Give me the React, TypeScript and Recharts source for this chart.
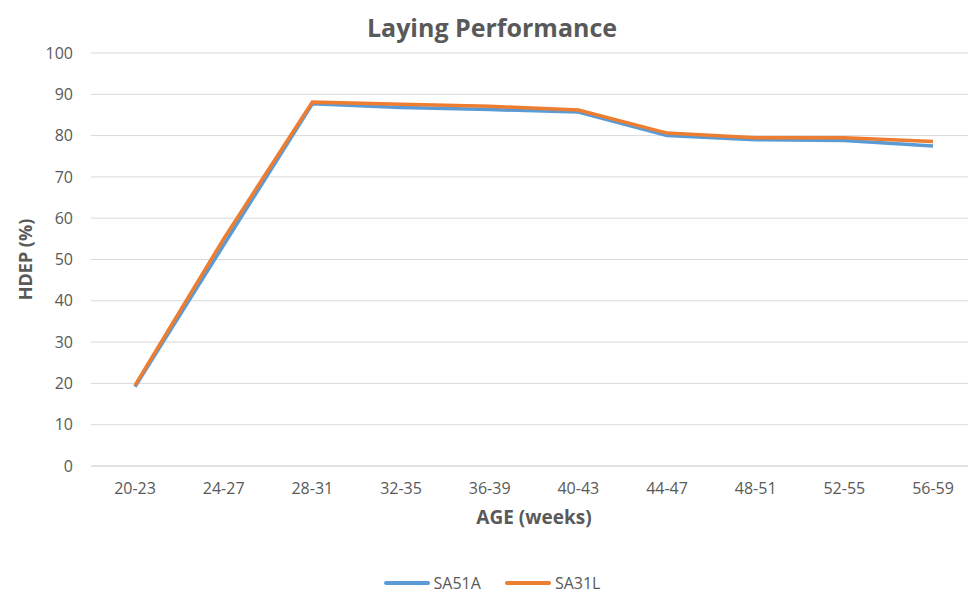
import React from "react";
import { LineChart, Line, XAxis, YAxis, CartesianGrid, Label } from "recharts";

const categories = ["20-23", "24-27", "28-31", "32-35", "36-39", "40-43", "44-47", "48-51", "52-55", "56-59"];
const sa51a = [19.2, 53.5, 87.7, 86.8, 86.3, 85.7, 80.0, 79.0, 78.8, 77.5];
const sa31l = [19.5, 55.0, 88.1, 87.6, 87.1, 86.2, 80.6, 79.5, 79.5, 78.6];
const yTicks = [0, 10, 20, 30, 40, 50, 60, 70, 80, 90, 100];
const seriesNames = ["SA51A", "SA31L"];
const seriesColors = ["#5B9BD5", "#ED7D31"];

const data = categories.map((c, i) => ({ age: c, SA51A: sa51a[i], SA31L: sa31l[i] }));

const FONT = "'Open Sans', 'DejaVu Sans', sans-serif";
const GRAY = "#595959";

export default function App() {
  return (
    <div style={{ position: "absolute", left: 0, top: 0, width: 968, height: 593, overflow: "hidden", background: "#fff", fontFamily: FONT }}>
      <div style={{ position: "absolute", left: 0, top: 10, width: 984, textAlign: "center", fontSize: 25, fontWeight: 700, color: GRAY, lineHeight: "34px" }}>
        Laying Performance
      </div>
      <LineChart width={980} height={593} data={data} margin={{ top: 53, right: 3, bottom: 0, left: 0 }}>
        <CartesianGrid horizontal vertical={false} stroke="#d9d9d9" strokeWidth={1} />
        <XAxis
          dataKey="age"
          height={127}
          padding={{ left: 44, right: 44 }}
          tickLine={false}
          axisLine={{ stroke: "#d9d9d9" }}
          tickSize={0}
          tickMargin={17}
          tick={{ fill: GRAY, fontSize: 16, fontFamily: FONT }}
        >
          <Label value="AGE (weeks)" position="insideTop" offset={45} style={{ fill: GRAY, fontSize: 19, fontWeight: 700, fontFamily: FONT }} />
        </XAxis>
        <YAxis
          domain={[0, 100]}
          ticks={yTicks}
          width={91}
          tickLine={false}
          axisLine={false}
          tickSize={0}
          tickMargin={18}
          tick={{ fill: GRAY, fontSize: 16, fontFamily: FONT }}
        >
          <Label value="HDEP (%)" angle={-90} position="insideLeft" offset={26} style={{ fill: GRAY, fontSize: 18, fontWeight: 700, fontFamily: FONT, textAnchor: "middle" }} />
        </YAxis>
        <Line type="linear" dataKey="SA51A" stroke={seriesColors[0]} strokeWidth={3.5} dot={false} isAnimationActive={false} />
        <Line type="linear" dataKey="SA31L" stroke={seriesColors[1]} strokeWidth={3.5} dot={false} isAnimationActive={false} />
      </LineChart>
      <div style={{ position: "absolute", left: 0, top: 572, width: 984, display: "flex", justifyContent: "center", alignItems: "center", fontSize: 16, color: GRAY, lineHeight: "22px" }}>
        {seriesNames.map((n, i) => (
          <div key={n} style={{ display: "flex", alignItems: "center", marginRight: i === 0 ? 24 : 0 }}>
            <span style={{ display: "inline-block", width: 46, height: 4, borderRadius: 2, background: seriesColors[i], marginRight: 4 }} />
            <span>{n}</span>
          </div>
        ))}
      </div>
    </div>
  );
}
